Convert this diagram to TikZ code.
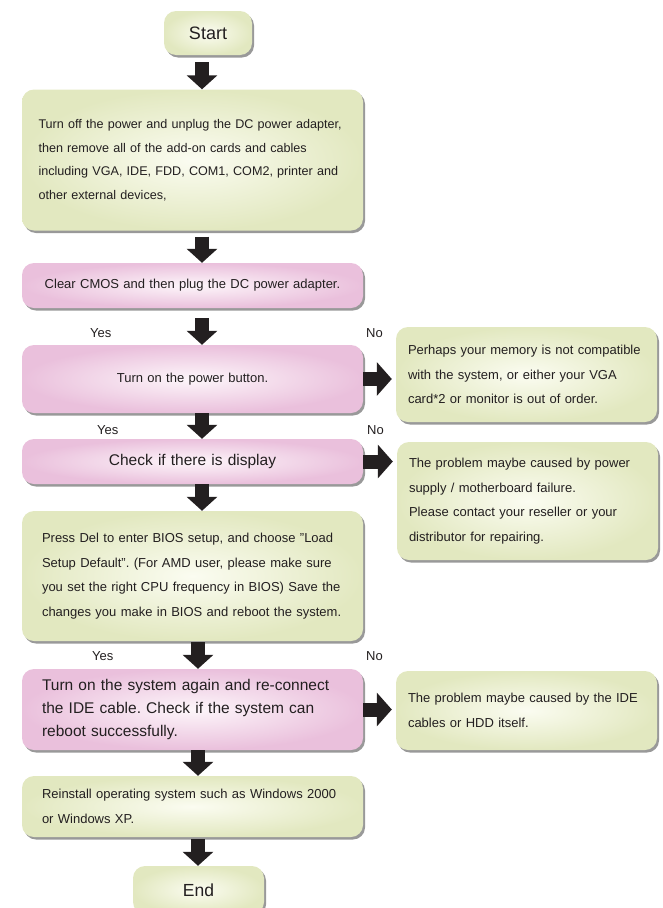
\documentclass[tikz,border=0pt]{standalone}
\usepackage{fontspec}
\setmainfont{Liberation Sans}
\usetikzlibrary{positioning, arrows.meta, shadows}

\definecolor{inkDark}{HTML}{231F20}
\definecolor{greenEdge}{HTML}{E2E8C0}
\definecolor{greenMid}{HTML}{FBFCF1}
\definecolor{pinkEdge}{HTML}{EAC0DC}
\definecolor{pinkMid}{HTML}{FDF6FA}

\begin{document}
\frenchspacing
\begin{tikzpicture}[x=1pt, y=-1pt, font=\fontsize{13}{24.5}\selectfont, text=inkDark,
    boxBase/.style={rectangle, rounded corners=12pt, inner sep=0pt, text=inkDark,
      drop shadow={shadow xshift=2pt, shadow yshift=-2.5pt, opacity=0.4, fill=black}},
    boxGreen/.style={boxBase, inner color=greenMid, outer color=greenEdge},
    boxPink/.style={boxBase, inner color=pinkMid, outer color=pinkEdge},
    mainBox/.style={minimum width=341pt, text width=301pt},
    sideBox/.style={minimum width=261pt, text width=237pt, align=left},
    bigText/.style={font=\fontsize{15.5}{23}\selectfont},
    arrDown/.style={draw=inkDark, line width=14pt, -{Triangle[width=30pt, length=14pt]}},
    arrRight/.style={draw=inkDark, line width=14pt, -{Triangle[width=33pt, length=15pt]}, shorten >=4pt},
    yesNo/.style={anchor=west, inner sep=0pt},
  ]
  % page frame in pixel units of the reference (y grows downwards)
  \useasboundingbox (0,0) rectangle (662,908);
  \coordinate (axisUp) at (202,0);
  \coordinate (axisLow) at (198,0);

  % main column
  \node[boxGreen, minimum width=88pt, minimum height=44pt, font=\fontsize{18}{20}\selectfont] (start) at (208,33) {Start};
  \node[boxGreen, mainBox, text width=308pt, minimum height=141pt, align=left, font=\fontsize{12.6}{23.5}\selectfont] (unplug) at (192.5,160) {Turn off the power and unplug the DC power adapter,\\ then remove all of the add-on cards and cables\\ including VGA, IDE, FDD, COM1, COM2, printer and\\ other external devices,};
  \node[boxPink, mainBox, minimum height=45pt, align=center] (cmos) at (192.5,285.5) {Clear CMOS and then plug the DC power adapter.};
  \node[boxPink, mainBox, minimum height=68pt, align=center] (powerOn) at (192.5,379) {Turn on the power button.};
  \node[boxPink, mainBox, minimum height=45pt, align=center, bigText] (display) at (192.5,461.5) {Check if there is display};
  \node[boxGreen, mainBox, minimum height=130pt, align=left] (bios) at (192.5,576) {Press Del to enter BIOS setup, and choose "Load\\ Setup Default". (For AMD user, please make sure\\ you set the right CPU frequency in BIOS) Save the\\ changes you make in BIOS and reboot the system.};
  \node[boxPink, mainBox, minimum height=81pt, align=left, bigText] (reboot) at (192.5,709.5) {Turn on the system again and re-connect\\ the IDE cable. Check if the system can\\ reboot successfully.};
  \node[boxGreen, mainBox, minimum height=61pt, align=left] (reinstall) at (192.5,806.5) {Reinstall operating system such as Windows 2000\\ or Windows XP.};
  \node[boxGreen, minimum width=131pt, minimum height=48pt, font=\fontsize{17.5}{20}\selectfont] (finish) at (198.5,890) {End};

  % side notes for the "No" branches
  \node[boxGreen, sideBox, minimum height=95pt] (memNote) at (526.5,374.5) {Perhaps your memory is not compatible\\ with the system, or either your VGA\\ card*2 or monitor is out of order.};
  \node[boxGreen, sideBox, minimum height=118pt] (psuNote) at (527.5,501) {The problem maybe caused by power\\ supply / motherboard failure.\\ Please contact your reseller or your\\ distributor for repairing.};
  \node[boxGreen, sideBox, minimum height=79pt] (ideNote) at (526.5,710.5) {The problem maybe caused by the IDE\\ cables or HDD itself.};

  % Yes / No labels
  \node[yesNo] (yesA) at (90,333) {Yes};
  \node[yesNo] (noA) at (366,333) {No};
  \node[yesNo] (yesB) at (97,430) {Yes};
  \node[yesNo] (noB) at (367,430) {No};
  \node[yesNo] (yesC) at (92,656) {Yes};
  \node[yesNo] (noC) at (366,656) {No};

  % block arrows down the main column
  \draw[arrDown, shorten <=7pt] (start.south -| axisUp) -- (unplug.north -| axisUp);
  \draw[arrDown, shorten <=6pt] (unplug.south -| axisUp) -- (cmos.north -| axisUp);
  \draw[arrDown, shorten <=10pt] (cmos.south -| axisUp) -- (powerOn.north -| axisUp);
  \draw[arrDown] (powerOn.south -| axisUp) -- (display.north -| axisUp);
  \draw[arrDown] (display.south -| axisUp) -- (bios.north -| axisUp);
  \draw[arrDown, shorten <=1pt] (bios.south -| axisLow) -- (reboot.north -| axisLow);
  \draw[arrDown] (reboot.south -| axisLow) -- (reinstall.north -| axisLow);
  \draw[arrDown, shorten <=2pt] (reinstall.south -| axisLow) -- (finish.north -| axisLow);

  % block arrows to the side notes
  \draw[arrRight] (powerOn.east) -- (memNote.west |- powerOn.east);
  \draw[arrRight] (display.east) -- (psuNote.west |- display.east);
  \draw[arrRight] (reboot.east) -- (ideNote.west |- reboot.east);
\end{tikzpicture}
\end{document}
